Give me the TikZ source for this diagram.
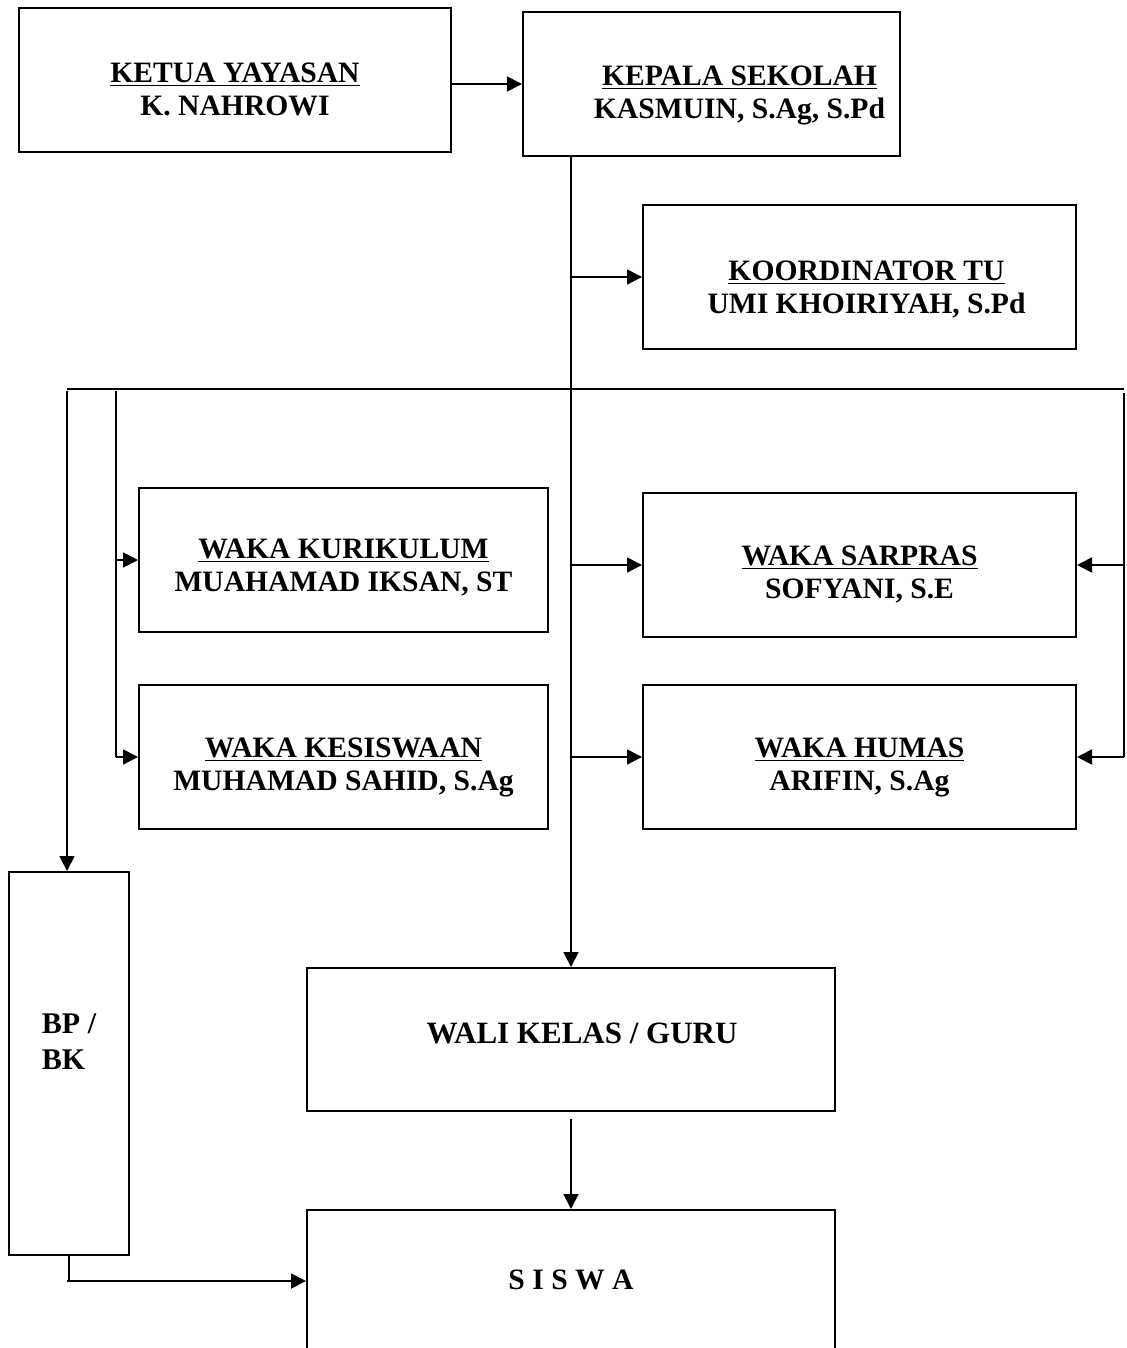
\documentclass[tikz,border=0pt]{standalone}
\usepackage{fontspec}
\setmainfont{Liberation Serif}
\usetikzlibrary{arrows.meta}

\tikzset{
  box/.style={draw, line width=1pt, inner sep=0pt},
  lbl/.style={font=\bfseries\fontsize{14.8}{16.5}\selectfont, align=center},
  arr/.style={-{Triangle[length=7.5pt,width=7.5pt]}, line width=0.9pt},
  line/.style={line width=0.9pt}
}

\begin{document}
\begin{tikzpicture}[x=0.5pt, y=-0.5pt]
\useasboundingbox (0,0) rectangle (1127,1348);
\clip (0,0) rectangle (1127,1348);

% boxes
\node[box, minimum width=216pt, minimum height=72pt,
  label={[lbl, yshift=-4.5pt]center:{\underline{KETUA YAYASAN}\\K. NAHROWI}}] (ketua) at (235,80) {};
\node[box, minimum width=188.5pt, minimum height=72pt,
  label={[lbl, xshift=14pt, yshift=-5.5pt]center:{\underline{KEPALA SEKOLAH}\\KASMUIN, S.Ag, S.Pd}}] (kepala) at (711.5,84) {};
\node[box, minimum width=216.5pt, minimum height=72pt,
  label={[lbl, xshift=3.5pt, yshift=-6.25pt]center:{\underline{KOORDINATOR TU}\\UMI KHOIRIYAH, S.Pd}}] (koor) at (859.5,277) {};
\node[box, minimum width=204.5pt, minimum height=72pt,
  label={[lbl, yshift=-3.75pt]center:{\underline{WAKA KURIKULUM}\\MUAHAMAD IKSAN, ST}}] (kuri) at (343.5,560) {};
\node[box, minimum width=204.5pt, minimum height=72pt,
  label={[lbl, yshift=-5.25pt]center:{\underline{WAKA KESISWAAN}\\MUHAMAD SAHID, S.Ag}}] (kesis) at (343.5,757) {};
\node[box, minimum width=216.5pt, minimum height=72pt,
  label={[lbl, yshift=-4.5pt]center:{\underline{WAKA SARPRAS}\\SOFYANI, S.E}}] (sarpras) at (859.5,565) {};
\node[box, minimum width=216.5pt, minimum height=72pt,
  label={[lbl, yshift=-5.25pt]center:{\underline{WAKA HUMAS}\\ARIFIN, S.Ag}}] (humas) at (859.5,757) {};
\node[box, minimum width=264pt, minimum height=71.5pt,
  label={[lbl, font=\bfseries\fontsize{15.5}{17}\selectfont, xshift=5.5pt, yshift=3pt]center:{WALI KELAS / GURU}}] (wali) at (571,1039.5) {};
\node[box, minimum width=60pt, minimum height=191.5pt,
  label={[lbl, align=left, font=\bfseries\fontsize{15}{18}\selectfont, yshift=11pt]center:{BP /\\BK}}] (bpbk) at (69,1063.5) {};
\node[box, minimum width=264pt, minimum height=105pt,
  label={[lbl, yshift=17.5pt]center:{S I S W A}}] (siswa) at (571,1315) {};

% bus line
\coordinate (bl) at (67,389);
\coordinate (kl) at (116,389);
\coordinate (br) at (1124,389);
\coordinate (bs) at (67,1281);

\draw[arr] (ketua.east |- kepala.west) -- (kepala.west);
\draw[arr] (kepala.south -| wali.north) -- (wali.north);
\draw[arr] (koor.west -| wali.north) -- (koor.west);
\draw[arr] (sarpras.west -| wali.north) -- (sarpras.west);
\draw[arr] (humas.west -| wali.north) -- (humas.west);

\draw[line] (bl) -- (br);
\draw[arr] ([yshift=-1pt]bl) -- (bl |- bpbk.north);
\draw[line] ([yshift=-1pt]kl) -- (kl |- kesis.west);
\draw[arr] (kl |- kuri.west) -- (kuri.west);
\draw[arr] (kl |- kesis.west) -- (kesis.west);
\draw[line] ([yshift=-2pt]br) -- (br |- humas.east);
\draw[arr] (br |- sarpras.east) -- (sarpras.east);
\draw[arr] (br |- humas.east) -- (humas.east);

\draw[arr] ([yshift=-3.5pt]wali.south) -- (siswa.north);
\draw[line] (bpbk.south) -- (bpbk.south |- bs);
\draw[arr] (bs) -- (bs -| siswa.west);
\end{tikzpicture}
\end{document}
